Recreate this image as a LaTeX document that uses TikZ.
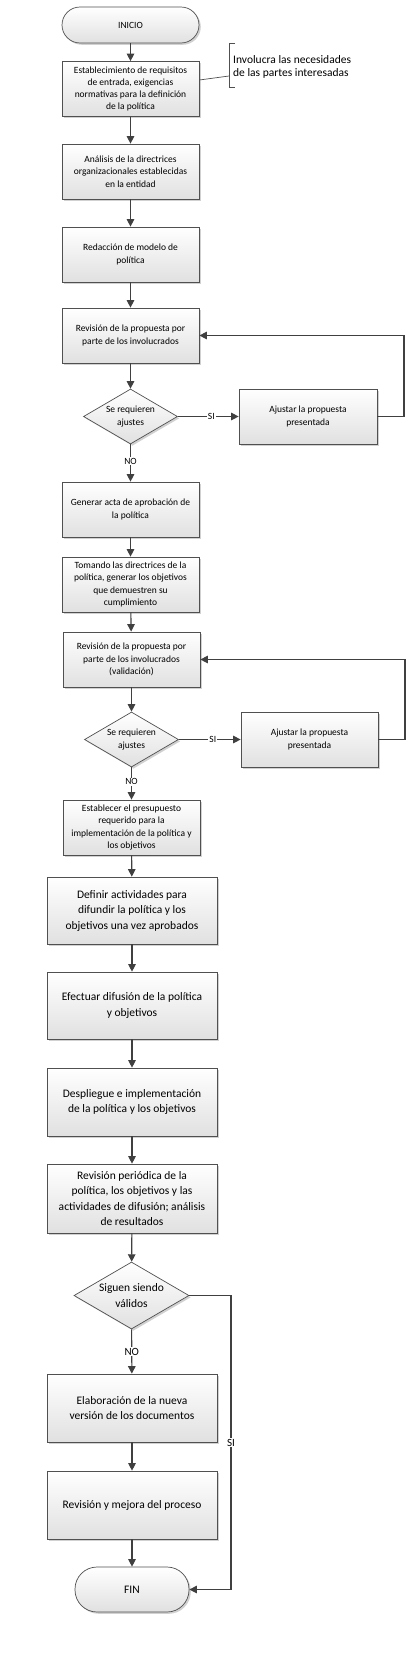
\documentclass[tikz,border=0pt]{standalone}
\usepackage{fontspec}
\setmainfont{Carlito}
\usetikzlibrary{shapes.geometric,shadows,arrows.meta}
\definecolor{edge}{HTML}{505050}
\definecolor{arr}{HTML}{404040}
\tikzset{
  base/.style={draw=edge, line width=0.7pt, top color=white, bottom color=black!12,
    drop shadow={shadow xshift=1.8pt, shadow yshift=-1.8pt, fill=black, opacity=0.18},
    align=center, inner sep=1pt},
  sbox/.style={base, rectangle, minimum width=137pt, minimum height=55pt,
    font=\fontsize{9.5}{12.3}\selectfont},
  lbox/.style={base, rectangle, minimum width=170pt, minimum height=68pt,
    font=\fontsize{11.5}{15.5}\selectfont},
  sdec/.style={base, diamond, aspect=1.7, inner sep=0pt, minimum width=94pt, minimum height=55pt,
    font=\fontsize{9.5}{12.3}\selectfont},
  term/.style={base, rectangle, rounded corners=18pt, minimum width=137pt, minimum height=36pt,
    font=\fontsize{9.5}{12}\selectfont},
  flow/.style={draw=arr, line width=1.1pt, -{Triangle[length=7.5pt,width=7.5pt]}},
  lab/.style={fill=white, inner sep=1pt, font=\fontsize{9.5}{11}\selectfont},
  llab/.style={fill=white, inner sep=1pt, font=\fontsize{11}{12}\selectfont},
}
\begin{document}
\begin{tikzpicture}[x=1pt,y=-1pt]
\useasboundingbox (0,0) rectangle (417,1668);
\fill[white] (0,0) rectangle (417,1668);

\node[term] (inicio) at (130.5,25) {INICIO};
\node[sbox] (b1) at (130.5,89) {Establecimiento de requisitos\\de entrada, exigencias\\normativas para la definición\\de la política};
\node[sbox] (b2) at (130.5,171.5) {Análisis de la directrices\\organizacionales establecidas\\en la entidad};
\node[sbox] (b3) at (130.5,254.5) {Redacción de modelo de\\política};
\node[sbox] (b4) at (130.5,335.5) {Revisión de la propuesta por\\parte de los involucrados};
\node[sdec] (d1) at (130.5,416.5) {Se requieren\\ajustes};
\node[sbox, minimum width=138pt] (a1) at (308,416.5) {Ajustar la propuesta\\presentada};
\node[sbox] (b5) at (130.5,509.5) {Generar acta de aprobación de\\la política};
\node[sbox] (b6) at (130.5,584.5) {Tomando las directrices de la\\política, generar los objetivos\\que demuestren su\\cumplimiento};
\node[sbox] (b7) at (131.5,659.5) {Revisión de la propuesta por\\parte de los involucrados\\(validación)};
\node[sdec] (d2) at (131.5,739.5) {Se requieren\\ajustes};
\node[sbox] (a2) at (309.5,739.5) {Ajustar la propuesta\\presentada};
\node[sbox] (b8) at (131.5,827.5) {Establecer el presupuesto\\requerido para la\\implementación de la política y\\los objetivos};
\node[lbox, minimum height=67pt] (b9) at (132,910.5) {Definir actividades para\\difundir la política y los\\objetivos una vez aprobados};
\node[lbox, minimum height=67pt] (b10) at (132,1005.5) {Efectuar difusión de la política\\y objetivos};
\node[lbox] (b11) at (132,1102) {Despliegue e implementación\\de la política y los objetivos};
\node[lbox, minimum height=69pt] (b12) at (132,1198.5) {Revisión periódica de la\\política, los objetivos y las\\actividades de difusión; análisis\\de resultados};
\node[sdec, minimum width=115pt, minimum height=67pt, font=\fontsize{11.5}{15.5}\selectfont] (d3) at (131.5,1295.5) {Siguen siendo\\válidos};
\node[lbox] (b13) at (132,1408) {Elaboración de la nueva\\versión de los documentos};
\node[lbox] (b14) at (132,1505) {Revisión y mejora del proceso};
\node[term, minimum width=114pt, minimum height=45pt, rounded corners=22pt, font=\fontsize{11.5}{13}\selectfont] (fin) at (132,1589.5) {FIN};

% annotation
\coordinate (brt) at (235,43);
\coordinate (brm) at (229,76);
\coordinate (brb) at (235,87);
\draw[edge, line width=0.7pt] (brt) -- (229,43) -- (229,87) -- (brb);
\draw[edge, line width=0.7pt] ([yshift=9pt]b1.east) -- (brm);
\node[anchor=west, align=left, inner sep=0pt, font=\fontsize{11.5}{13}\selectfont] (ann) at (233,66.5) {Involucra las necesidades\\de las partes interesadas};

% main flow
\draw[flow] (inicio) -- (b1);
\draw[flow] (b1) -- (b2);
\draw[flow] (b2) -- (b3);
\draw[flow] (b3) -- (b4);
\draw[flow] (b4) -- (d1);
\draw[flow] (d1) -- node[lab, pos=0.45] {NO} (b5);
\draw[flow] (d1) -- node[lab, pos=0.55] {SI} (a1);
\coordinate (r1) at (404,416.5);
\coordinate (r1t) at (404,335.5);
\draw[flow] (a1.east) -- (r1) -- (r1t) -- (b4.east);
\draw[flow] (b5) -- (b6);
\draw[flow] (b6) -- (b7);
\draw[flow] (b7) -- (d2);
\draw[flow] (d2) -- node[lab, pos=0.45] {NO} (b8);
\draw[flow] (d2) -- node[lab, pos=0.55] {SI} (a2);
\coordinate (r2) at (405,739.5);
\coordinate (r2t) at (405,659.5);
\draw[flow] (a2.east) -- (r2) -- (r2t) -- (b7.east);
\draw[flow] (b8) -- (b9);
\draw[flow] (b9) -- (b10);
\draw[flow] (b10) -- (b11);
\draw[flow] (b11) -- (b12);
\draw[flow] (b12) -- (d3);
\draw[flow] (d3) -- node[llab, pos=0.5] {NO} (b13);
\draw[flow] (b13) -- (b14);
\draw[flow] (b14) -- (fin);
\coordinate (r3) at (231,1295.5);
\coordinate (r3b) at (231,1589.5);
\draw[flow] (d3.east) -- (r3) -- node[llab, pos=0.5] {SI} (r3b) -- (fin.east);
\end{tikzpicture}
\end{document}
